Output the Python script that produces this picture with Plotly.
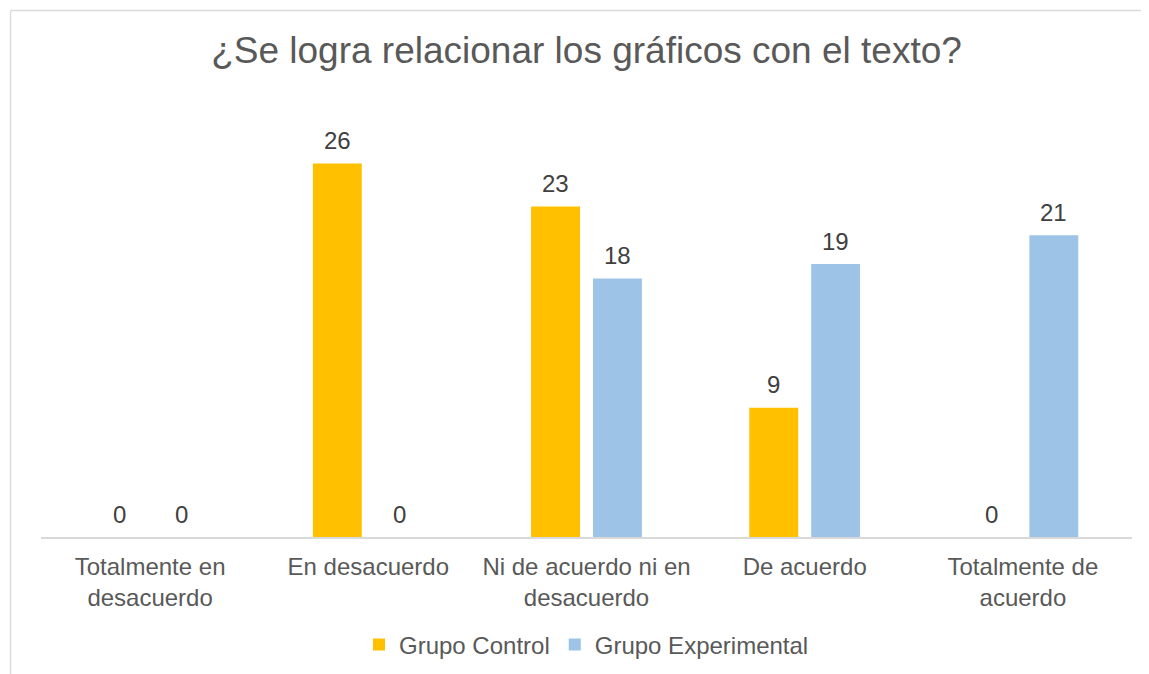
import plotly.graph_objects as go

categories = ["Totalmente en<br>desacuerdo", "En desacuerdo", "Ni de acuerdo ni en<br>desacuerdo",
              "De acuerdo", "Totalmente de<br>acuerdo"]
control = [0, 26, 23, 9, 0]
experimental = [0, 0, 18, 19, 21]
series_names = ["Grupo Control", "Grupo Experimental"]
series_colors = ["#FFC000", "#9DC3E6"]
title_text = "¿Se logra relacionar los gráficos con el texto?"

# page has an 8px body margin, so the figure is offset by it
OFF = 8
W, H = 1149 - OFF, 674
ml, mr, mt = 41 - OFF, 17, 106 - OFF
mb = H - (537 - OFF)
pw, ph = W - ml - mr, H - mt - mb
FONT = "Liberation Sans, Arial, sans-serif"
BARGAP, GROUPGAP = 0.4325, 0.21

fig = go.Figure()
series = [control, experimental]
for name, vals, col in zip(series_names, series, series_colors):
    fig.add_trace(go.Bar(x=categories, y=vals, name=name, marker=dict(color=col, line=dict(width=0))))

# data labels above each bar
slot_px = pw / len(categories) * (1 - BARGAP) / len(series)
for i, vals in enumerate(series):
    for cat, v in zip(categories, vals):
        fig.add_annotation(x=cat, y=v, xref="x", yref="y", text=str(v), showarrow=False,
                           xshift=(i - (len(series) - 1) / 2) * slot_px, yshift=23,
                           yanchor="middle", font=dict(size=24, color="#404040", family=FONT))

# chart frame: only the left and top edges are visible
fx0 = (10.5 - OFF - ml) / pw
fy1 = (H - mb - (10.5 - OFF)) / ph
frame = dict(color="#D9D9D9", width=1.3)
fig.add_shape(type="line", xref="paper", yref="paper", x0=fx0, x1=fx0, y0=-1.5, y1=fy1, line=frame, layer="below")
fig.add_shape(type="line", xref="paper", yref="paper", x0=fx0, x1=1.5, y0=fy1, y1=fy1, line=frame, layer="below")

fig.update_layout(
    width=W, height=H,
    margin=dict(l=ml, r=mr, t=mt, b=mb),
    paper_bgcolor="white", plot_bgcolor="white",
    barmode="group", bargap=BARGAP, bargroupgap=GROUPGAP,
    title=dict(text=title_text, xref="paper", x=0.5, xanchor="center", y=1 - (50 - OFF) / H,
               yanchor="middle", font=dict(size=37, color="#595959", family=FONT)),
    font=dict(family=FONT, color="#595959", size=24),
    showlegend=True,
    legend=dict(orientation="h", x=0.5, xanchor="center", y=(H - mb - (645 - OFF)) / ph, yanchor="middle",
                font=dict(size=24, color="#595959", family=FONT), itemclick=False),
    xaxis=dict(showline=True, linecolor="#D9D9D9", linewidth=1.5, ticks="", showgrid=False,
               ticklabelstandoff=7, automargin=False,
               tickfont=dict(size=24, color="#595959", family=FONT)),
    yaxis=dict(range=[0, 30], visible=False, showgrid=False, zeroline=False, automargin=False),
)

fig.write_html("out.html",
               post_script="document.documentElement.style.overflow='hidden';document.body.style.overflow='hidden';")
